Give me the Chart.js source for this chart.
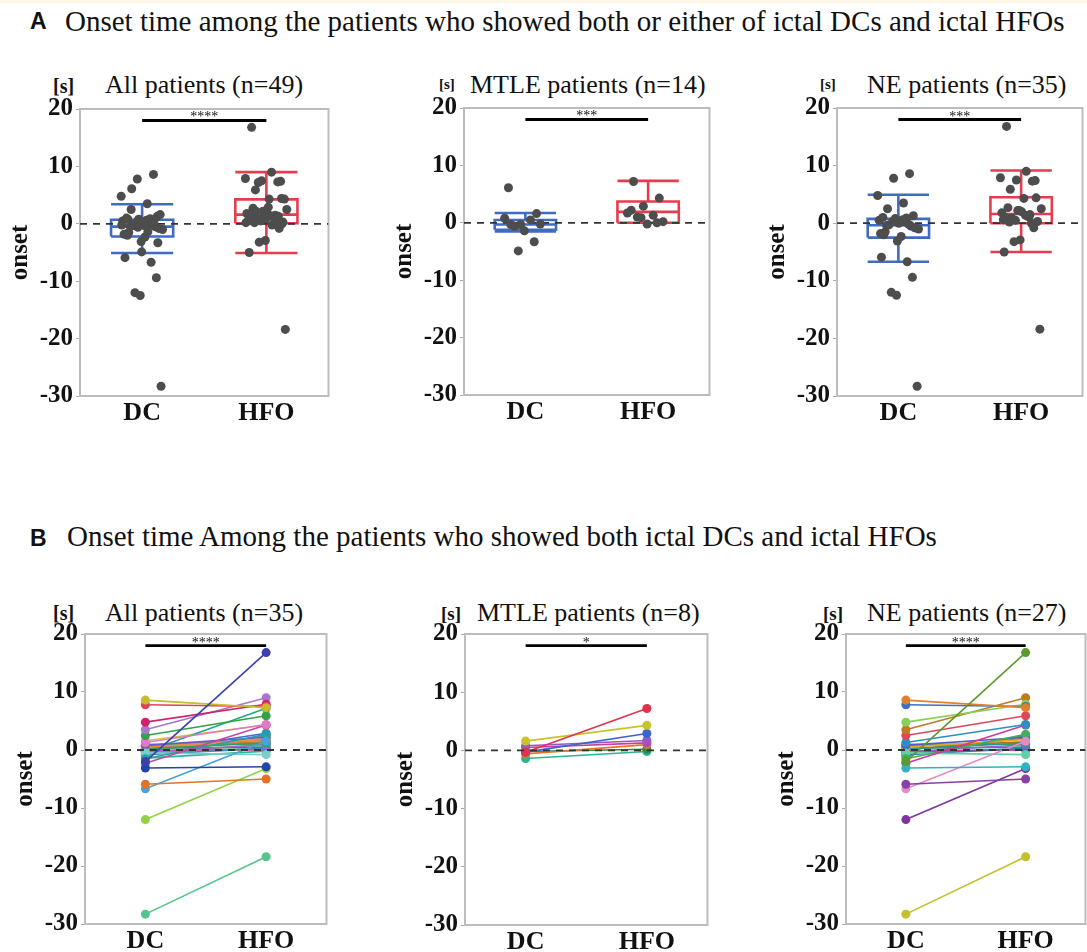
<!DOCTYPE html>
<html><head><meta charset="utf-8">
<script src="https://cdn.jsdelivr.net/npm/chart.js@4/dist/chart.umd.min.js"></script>
<style>
html,body{margin:0;padding:0;background:#fff;}
#page{position:relative;width:1087px;height:952px;overflow:hidden;background:#fff;font-family:'Liberation Serif','Times New Roman',serif;color:#111;}
.strip{position:absolute;left:0;top:0;width:1087px;height:3px;background:#fdf7e4;}
.t{position:absolute;white-space:nowrap;line-height:1;}
.cv{position:absolute;}
</style></head>
<body><div id="page"><div class="strip"></div></div>
<script>
// ---------- data ----------
const categories = ['DC', 'HFO'];
const yTicks = [-30, -20, -10, 0, 10, 20];
const panelTitles = ['All patients (n=49)', 'MTLE patients (n=14)', 'NE patients (n=35)',
                     'All patients (n=35)', 'MTLE patients (n=8)', 'NE patients (n=27)'];
const sigLabels = ['****', '***', '***', '****', '*', '****'];
const sigLevel = 18;
const zeroLevel = 0;

// patients with both ictal DCs and HFOs (paired onsets, s)
const neDC  = [-2.0, 8.6, 7.8, 4.8, 3.5, 2.5, 1.3, -3.1, -5.9, -6.7, -12.0, -28.3, -2.3, -1.5, -0.5, 0.8, 0.5, 0.2, -0.3, -0.8, 0.0, 1.0, -0.2, 0.3, -1.0, 0.6, -0.4];
const neHFO = [16.8, 7.3, 7.5, 7.9, 9.0, 5.9, 4.4, -2.9, -5.0, 1.5, -3.2, -18.4, 4.3, 2.7, -0.8, 2.2, 1.8, 1.2, 0.9, 0.3, 2.0, 1.0, 0.0, 0.5, 2.5, 1.4, 0.2];
const mtleDC  = [-0.3, 1.6, -0.3, 0.8, 0.5, -0.6, -0.2, -1.4];
const mtleHFO = [7.2, 4.3, 2.9, 1.7, 1.3, 1.0, 0.2, -0.2];
// patients with only one of them
const neDCOnly = [-9.4, -12.5, -1.8, 0.9];
const neHFOOnly = [7.4, 2.2, 0.6, 1.1];
const mtleDCOnly = [6.1, -3.3, -4.9];
const mtleHFOOnly = [2.2, 0.0, 0.9];

// box statistics [lower whisker, Q1, median, Q3, upper whisker]
const boxAllDC   = [-5.1, -2.2, -0.5, 0.7, 3.4];
const boxAllHFO  = [-5.1, 0.1, 1.6, 4.25, 9.0];
const boxMtleDC  = [-1.5, -1.2, -0.3, 0.5, 1.7];
const boxMtleHFO = [0.0, 0.0, 1.9, 3.7, 7.3];
const boxNeDC    = [-6.7, -2.5, -0.35, 0.75, 4.95];
const boxNeHFO   = [-5.0, 0.0, 1.6, 4.5, 9.15];

// ---------- styles ----------
const colorsNe = ['#5b9a2e','#e0822a','#3a6fc4','#86d05a','#c07a22','#e0465a','#2b8fc4','#2fb3c2','#8a3fa8','#e58ac8','#7d35a0','#c2c12a','#d4359e','#3fae5e','#62d0a4','#4b5fc8','#f0a030','#1f9e89','#a05ad0','#2c7bb6','#d95f02','#66a61e','#e7298a','#1b9e77','#7570b3','#a6761d','#17becf'];
const colorsMtle = ['#e0344a','#c9c22a','#3a64d0','#9a56c6','#c8409e','#e07a22','#2a8a48','#2bb596'];
const colorsAll = ['#3b3fb2','#cbb92e','#e0405a','#d0226c','#a877cc','#33a246','#e27ac6','#2343a6','#e0742a','#45a4da','#92d344','#55c58a','#c447a8','#22a3a3','#7ad0c8','#6a5acd','#f08c3c','#2e9e6e','#b05fd0','#3c8dc6','#e0a020','#58b04a','#e85aa0','#1e8f7a','#8c7ad0','#b8862a','#26bfd0',
                   '#1fa98c','#d6c434','#3d6cd6','#9b58c8','#c33e9e','#e0802a','#2a8a48','#2eb598'];
const BLUE = '#3f6cc2', RED = '#e63d4e', DOT = '#4d4d4d';
const SERIF = "'Liberation Serif','Times New Roman',serif";
const YW = 75, XH = 45, PT = 16, PR = 4, BOX_HALF = 0.25, JIT = 0.34;
const CX = [0.5, 1.5];

const page = document.getElementById('page');
function text(str, left, top, size, extra) {
  const d = document.createElement('div');
  d.className = 't';
  d.textContent = str;
  d.style.left = left + 'px'; d.style.top = top + 'px'; d.style.fontSize = size + 'px';
  if (extra) Object.assign(d.style, extra);
  page.appendChild(d);
}
const BOLD = {fontWeight: 'bold'};
const SANS = {fontWeight: 'bold', fontFamily: "'Liberation Sans',Arial,sans-serif"};

text('A', 30, 10, 23, SANS);
text('Onset time among the patients who showed both or either of ictal DCs and ictal HFOs', 65, 7, 29);
text('B', 30, 527, 23, SANS);
text('Onset time Among the patients who showed both ictal DCs and ictal HFOs', 67, 522, 29);

const unitPos = [[53, 76, 20], [439, 77, 15], [820, 77, 15], [53, 603, 20], [441, 604, 19], [823, 604, 19]];
const titlePos = [[105, 72], [470, 71.5], [867, 71.5], [105, 600], [477, 600], [867, 600]];
unitPos.forEach((p, i) => text('[s]', p[0], p[1], p[2], BOLD));
titlePos.forEach((p, i) => text(panelTitles[i], p[0], p[1], 26));

// ---------- plugins ----------
const framePlugin = {id: 'frame', beforeDatasetsDraw(c) {
  const a = c.chartArea, ctx = c.ctx; ctx.save();
  ctx.strokeStyle = '#bdbdbd'; ctx.lineWidth = 2;
  ctx.strokeRect(a.left, a.top, a.right - a.left, a.bottom - a.top); ctx.restore(); }};
const sigPlugin = {id: 'sig', afterDatasetsDraw(c, args, opts) {
  if (!opts || !opts.text) return;
  const ctx = c.ctx; ctx.save();
  ctx.font = '14px ' + SERIF; ctx.fillStyle = '#111'; ctx.textAlign = 'center'; ctx.textBaseline = 'alphabetic';
  ctx.fillText(opts.text, c.scales.x.getPixelForValue(1), c.scales.y.getPixelForValue(opts.level) + 1);
  ctx.restore(); }};

// ---------- dataset builders ----------
function jit(i) { return ((i * 0.618034 + 0.15) % 1 - 0.5) * JIT; }
function dotsDS(vals, cx) {
  return {data: vals.map((v, i) => ({x: cx + jit(i), y: v})), showLine: false,
          pointRadius: 4.5, pointBackgroundColor: DOT, pointBorderWidth: 0, order: 0};
}
function boxDS(st, cx, color) {
  const [lo, q1, md, q3, hi] = st, w = BOX_HALF;
  const g = {x: cx, y: null};
  const pts = [{x: cx - w, y: q1}, {x: cx + w, y: q1}, {x: cx + w, y: q3}, {x: cx - w, y: q3}, {x: cx - w, y: q1}, g,
    {x: cx - w, y: md}, {x: cx + w, y: md}, g,
    {x: cx, y: q3}, {x: cx, y: hi}, g, {x: cx - w, y: hi}, {x: cx + w, y: hi}, g,
    {x: cx, y: q1}, {x: cx, y: lo}, g, {x: cx - w, y: lo}, {x: cx + w, y: lo}];
  return {data: pts, showLine: true, spanGaps: false, borderColor: color, borderWidth: 2.6,
          pointRadius: 0, fill: false, borderJoinStyle: 'miter', order: 2};
}
function zeroDS(order) {
  return {data: [{x: 0, y: zeroLevel}, {x: 2, y: zeroLevel}], showLine: true, borderColor: '#333',
          borderWidth: 1.8, borderDash: [7, 6], pointRadius: 0, order};
}
function sigDS() {
  return {data: [{x: CX[0], y: sigLevel}, {x: CX[1], y: sigLevel}], showLine: true, borderColor: '#000',
          borderWidth: 2.8, pointRadius: 0, order: 0};
}
function pairDS(dc, hfo, colors) {
  return dc.map((v, i) => ({data: [{x: CX[0], y: v}, {x: CX[1], y: hfo[i]}], showLine: true,
    borderColor: colors[i], backgroundColor: colors[i], pointBackgroundColor: colors[i],
    borderWidth: 1.6, pointRadius: 4.5, pointBorderWidth: 0, order: 1}));
}

function makePanel(box, datasets, idx) {
  const [pl, pt, pr, pb] = box;
  const w = pr - pl + YW + PR, h = pb - pt + PT + XH;
  const wrap = document.createElement('div'); wrap.className = 'cv';
  wrap.style.cssText = `left:${pl - YW}px;top:${pt - PT}px;width:${w}px;height:${h}px;`;
  const cv = document.createElement('canvas'); cv.width = w; cv.height = h;
  cv.style.width = w + 'px'; cv.style.height = h + 'px';
  wrap.appendChild(cv); page.appendChild(wrap);
  const tickFont = {family: SERIF, size: 25, weight: 'bold'};
  new Chart(cv, {
    type: 'scatter',
    data: {datasets},
    plugins: [framePlugin, sigPlugin],
    options: {
      responsive: false, animation: false, devicePixelRatio: 1,
      layout: {padding: {top: PT, right: PR, left: 0, bottom: 0}},
      plugins: {legend: {display: false}, tooltip: {enabled: false},
                sig: {text: sigLabels[idx], level: sigLevel}},
      scales: {
        x: {type: 'linear', min: 0, max: 2,
            afterBuildTicks(s) { s.ticks = CX.map(v => ({value: v})); },
            afterFit(s) { s.height = XH; },
            ticks: {callback: (v, i) => categories[i], font: {family: SERIF, size: 26, weight: 'bold'},
                    color: '#111', padding: 2, maxRotation: 0, autoSkip: false},
            grid: {display: false, drawTicks: false}, border: {display: false}},
        y: {type: 'linear', min: -30, max: 20,
            afterBuildTicks(s) { s.ticks = yTicks.map(v => ({value: v})); },
            afterFit(s) { s.width = YW; },
            ticks: {callback: v => String(v), font: tickFont, color: '#111', padding: 3},
            grid: {display: true, drawOnChartArea: false, drawTicks: true, tickLength: 4, color: '#aaa'},
            border: {display: false},
            title: {display: true, text: 'onset', font: tickFont, color: '#111', padding: {top: 1, bottom: 0}}}
      }
    }
  });
}

const allDC = neDC.concat(neDCOnly, mtleDC, mtleDCOnly);
const allHFO = neHFO.concat(neHFOOnly, mtleHFO, mtleHFOOnly);
const mDC = mtleDC.concat(mtleDCOnly), mHFO = mtleHFO.concat(mtleHFOOnly);
const nDC = neDC.concat(neDCOnly), nHFO = neHFO.concat(neHFOOnly);

function boxPanel(dcVals, hfoVals, bDC, bHFO) {
  return [dotsDS(dcVals, CX[0]), dotsDS(hfoVals, CX[1]), sigDS(), zeroDS(1), boxDS(bDC, CX[0], BLUE), boxDS(bHFO, CX[1], RED)];
}
function pairPanel(dc, hfo, colors) {
  return [sigDS(), zeroDS(0)].concat(pairDS(dc, hfo, colors));
}

makePanel([80, 107, 329, 396], boxPanel(allDC, allHFO, boxAllDC, boxAllHFO), 0);
makePanel([464, 106, 710, 395], boxPanel(mDC, mHFO, boxMtleDC, boxMtleHFO), 1);
makePanel([837, 106, 1083, 396], boxPanel(nDC, nHFO, boxNeDC, boxNeHFO), 2);
makePanel([85, 632, 327, 924], pairPanel(neDC.concat(mtleDC), neHFO.concat(mtleHFO), colorsAll), 3);
makePanel([465, 632, 708, 925], pairPanel(mtleDC, mtleHFO, colorsMtle), 4);
makePanel([846, 632, 1086, 924], pairPanel(neDC, neHFO, colorsNe), 5);
</script>
</body></html>
